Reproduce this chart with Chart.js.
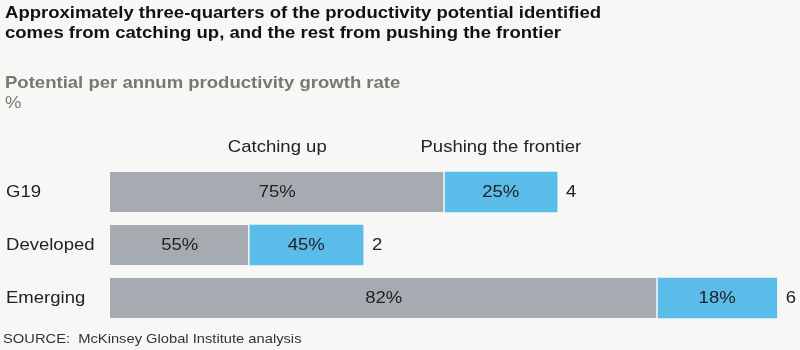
<!DOCTYPE html>
<html>
<head>
<meta charset="utf-8">
<script src="https://cdn.jsdelivr.net/npm/chart.js@4"></script>
<style>
    body { margin: 0; background: #f7f7f6; }
    #wrap { width: 800px; height: 350px; }
</style>
</head>
<body>
<div id="wrap"><canvas id="chart" width="800" height="350"></canvas></div>
<script>
// Data (bar lengths in growth-rate units)
const categories = ["G19", "Developed", "Emerging"];
const catchingUp = [3.0, 1.25, 4.91];
const pushingFrontier = [1.01, 1.02, 1.07];
const catchingUpShare = [75, 55, 82];
const frontierShare = [25, 45, 18];
const totals = [4, 2, 6];
const seriesNames = ["Catching up", "Pushing the frontier"];

const titleLines = [
    "Approximately three-quarters of the productivity potential identified",
    "comes from catching up, and the rest from pushing the frontier"
];
const subtitle = "Potential per annum productivity growth rate";
const unitLabel = "%";
const sourceNote = "SOURCE:  McKinsey Global Institute analysis";

const FONT = "'Liberation Sans', Arial, sans-serif";
const STRETCH = 1.09; // the original type is set a little wide

// draws text slightly widened, x is left / centre / right depending on align
function drawText(ctx, text, x, y, align) {
    const w = ctx.measureText(text).width * STRETCH;
    let left = x;
    if (align === "center") left = x - w / 2;
    else if (align === "right") left = x - w;
    ctx.save();
    ctx.translate(left, y);
    ctx.scale(STRETCH, 1);
    ctx.textAlign = "left";
    ctx.fillText(text, 0, 0);
    ctx.restore();
}

const textPlugin = {
    id: "texts",
    afterDraw(chart) {
        const ctx = chart.ctx;
        const gray = chart.getDatasetMeta(0).data;
        const blue = chart.getDatasetMeta(1).data;
        ctx.save();

        // title
        ctx.fillStyle = "#111";
        ctx.font = "bold 17px " + FONT;
        ctx.textBaseline = "alphabetic";
        drawText(ctx, titleLines[0], 5, 18, "left");
        drawText(ctx, titleLines[1], 5, 38, "left");

        // subtitle
        ctx.fillStyle = "#7b766f";
        drawText(ctx, subtitle, 5, 88, "left");
        ctx.font = "17px " + FONT;
        drawText(ctx, unitLabel, 5, 108, "left");

        // series headers over the first bar
        ctx.fillStyle = "#222";
        drawText(ctx, seriesNames[0], (gray[0].base + gray[0].x) / 2, 152, "center");
        drawText(ctx, seriesNames[1], (blue[0].base + blue[0].x) / 2, 152, "center");

        // categories, shares and totals
        ctx.textBaseline = "middle";
        categories.forEach((cat, i) => {
            const y = gray[i].y;
            drawText(ctx, cat, 6, y, "left");
            drawText(ctx, catchingUpShare[i] + "%", (gray[i].base + gray[i].x) / 2, y, "center");
            drawText(ctx, frontierShare[i] + "%", (blue[i].base + blue[i].x) / 2, y, "center");
            drawText(ctx, String(totals[i]), blue[i].x + 9, y, "left");
        });

        // source
        ctx.fillStyle = "#333";
        ctx.font = "13.5px " + FONT;
        ctx.textBaseline = "alphabetic";
        drawText(ctx, sourceNote, 3, 343, "left");
        ctx.restore();
    }
};

new Chart(document.getElementById("chart"), {
    type: "bar",
    data: {
        labels: categories,
        datasets: [
            {
                label: seriesNames[0],
                data: catchingUp,
                backgroundColor: "#a6abb1",
                borderColor: "#ffffff",
                borderWidth: { right: 1.5 },
                borderSkipped: false,
                barThickness: 40
            },
            {
                label: seriesNames[1],
                data: pushingFrontier,
                backgroundColor: "#5bbce9",
                borderWidth: 0,
                barThickness: 40
            }
        ]
    },
    options: {
        indexAxis: "y",
        responsive: false,
        animation: false,
        layout: { padding: { left: 110, right: 21, top: 165.5, bottom: 25.5 } },
        plugins: {
            legend: { display: false },
            tooltip: { enabled: false }
        },
        scales: {
            x: { stacked: true, min: 0, max: 6, display: false },
            y: { stacked: true, display: false }
        }
    },
    plugins: [textPlugin]
});
</script>
</body>
</html>
